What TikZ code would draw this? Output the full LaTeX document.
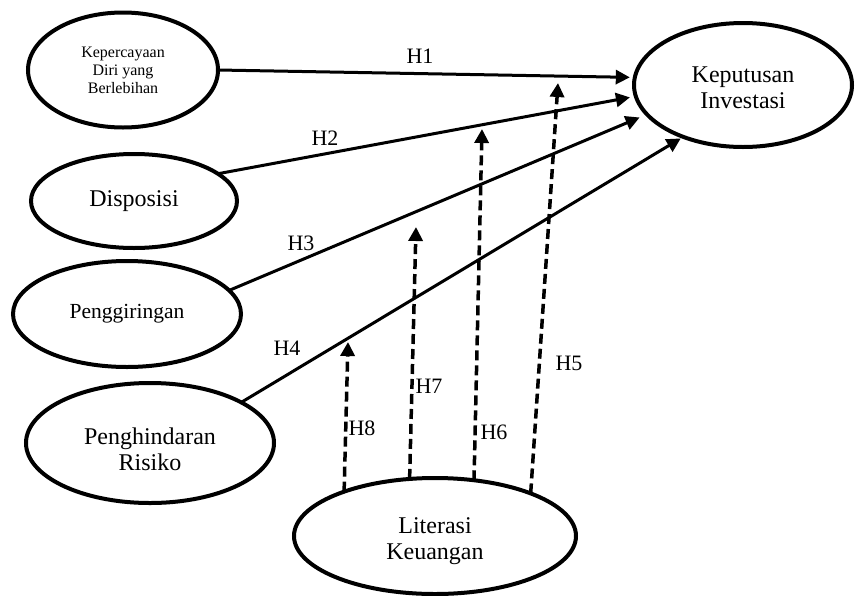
\documentclass[tikz,border=0pt]{standalone}
\usepackage{fontspec}
\setmainfont{Liberation Serif}
\usetikzlibrary{shapes.geometric,arrows.meta}
\begin{document}
\begin{tikzpicture}[x=1pt,y=-1pt,
  latent/.style={ellipse,draw,line width=4pt,inner sep=0pt,outer sep=0pt,align=center,font=\fontsize{24}{26}\selectfont},
  pathline/.style={line width=3pt,-{Triangle[length=14pt,width=14pt]}},
  moder/.style={line width=3.5pt,dash pattern=on 10pt off 5pt,-{Triangle[length=14pt,width=14pt]}},
  hlab/.style={font=\fontsize{22}{24}\selectfont,inner sep=0pt}]
\useasboundingbox[fill=white] (0,0) rectangle (857,595);
\node[latent,minimum width=190pt,minimum height=115pt,font=\fontsize{16}{18}\selectfont] (kep) at (123,70) {Kepercayaan\\Diri yang\\Berlebihan};
\node[latent,minimum width=218pt,minimum height=124pt,text height=47pt] (kpt) at (743,85) {Keputusan\\Investasi};
\node[latent,minimum width=206pt,minimum height=94pt] (dis) at (134,201) {Disposisi};
\node[latent,minimum width=228pt,minimum height=106pt,font=\fontsize{21.5}{24}\selectfont] (pgr) at (127,314) {Penggiringan};
\node[latent,minimum width=248pt,minimum height=120pt,text height=55pt] (phr) at (150,443) {Penghindaran\\Risiko};
\node[latent,minimum width=282pt,minimum height=116pt,text height=52pt] (lit) at (435,536) {Literasi\\Keuangan};

\coordinate (m5) at (558,83);
\coordinate (m6) at (482,129);
\coordinate (m7) at (416,227);
\coordinate (m8) at (348,342);

\draw[pathline,shorten >=5pt] (kep.east) -- (kpt.176);
\draw[pathline,shorten >=6pt] (dis.18.6) -- (kpt.186);
\draw[pathline,shorten >=8pt] (pgr.13.9) -- (kpt.197.8);
\draw[pathline,shorten >=3pt] (phr.24) -- (kpt.221);

\draw[moder] (lit.154.9) -- (m8);
\draw[moder] (lit.114.6) -- (m7);
\draw[moder] (lit.55.9) -- (m6);
\draw[moder] (lit.24.4) -- (m5);

\node[hlab] (h1) at (420,56) {H1};
\node[hlab] (h2) at (325,138) {H2};
\node[hlab] (h3) at (301,243) {H3};
\node[hlab] (h4) at (287,348) {H4};
\node[hlab] (h5) at (569,363) {H5};
\node[hlab] (h6) at (494,432) {H6};
\node[hlab] (h7) at (429,386) {H7};
\node[hlab] (h8) at (362,428) {H8};
\end{tikzpicture}
\end{document}
